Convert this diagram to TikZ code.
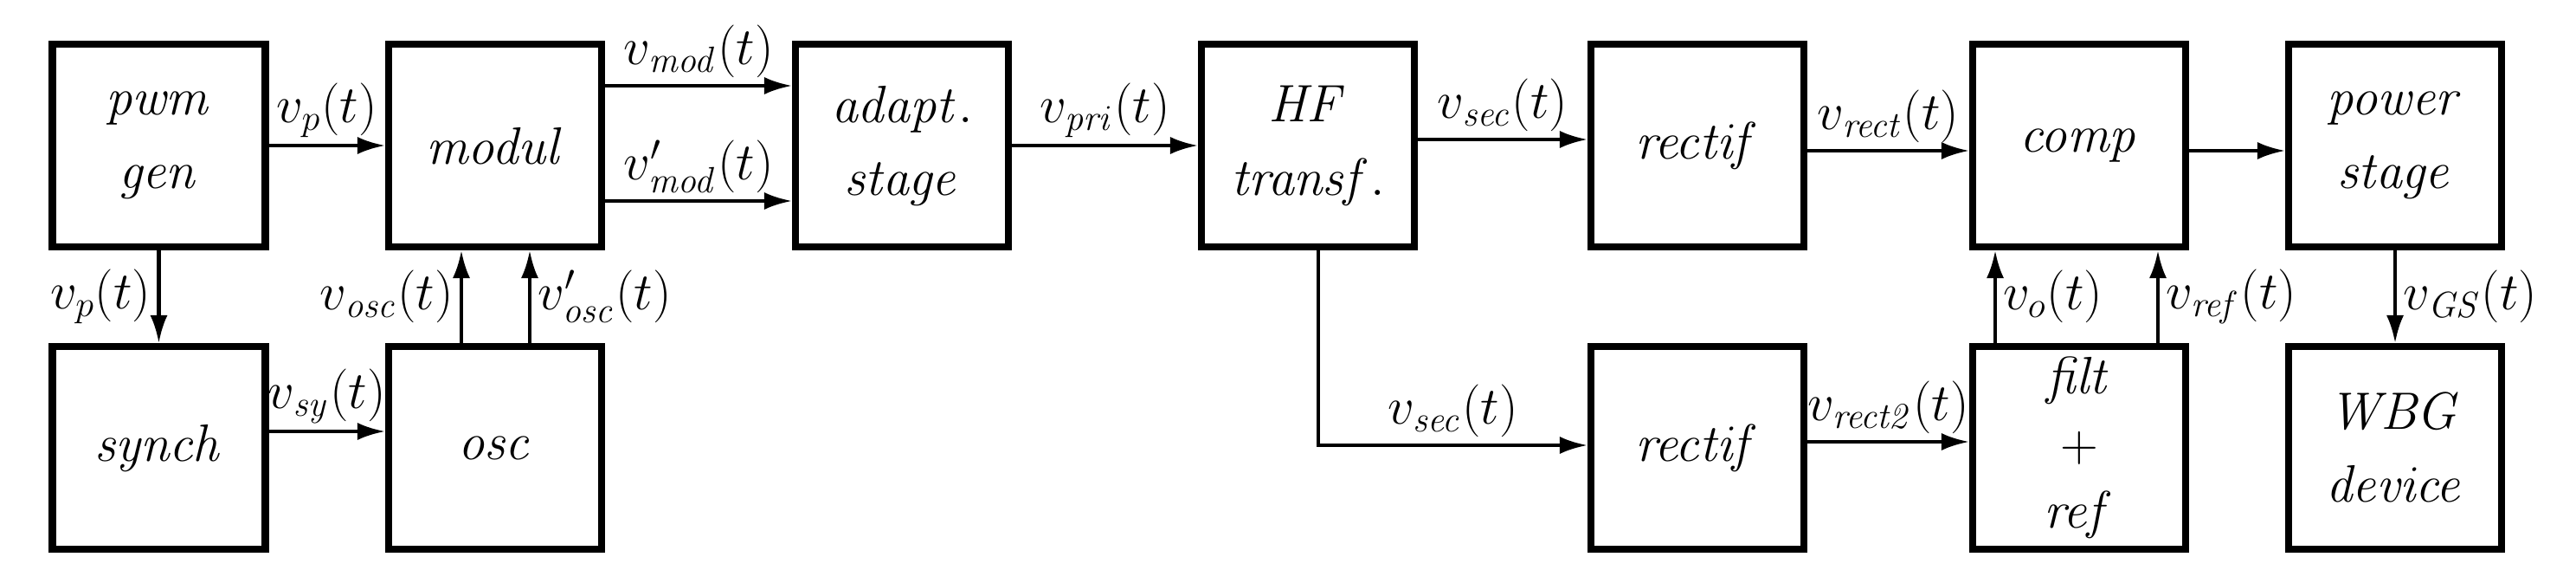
\documentclass[tikz,border=0pt]{standalone}
\usetikzlibrary{arrows.meta}
\begin{document}
\begin{tikzpicture}[x=1cm,y=1cm,
  box/.style={draw,line width=2.3pt,minimum width=2.46cm,minimum height=2.34cm,inner sep=0pt,align=center,font=\fontsize{18}{22}\selectfont},
  ar/.style={line width=1.2pt,-{Latex[length=0.32cm,width=0.2cm]}},
  lb/.style={font=\fontsize{17}{20}\selectfont,inner sep=2pt}]
\useasboundingbox (0,0) rectangle (29.76,6.72);
\node[box] (pwm) at (1.835,5.04) {$\mathit{pwm}$\\[2pt]$\mathit{gen}$};
\node[box] (mod) at (5.72,5.04) {$\mathit{modul}$};
\node[box] (ada) at (10.42,5.04) {$\mathit{adapt.}$\\[2pt]$\mathit{stage}$};
\node[box] (hf) at (15.11,5.04) {$\mathit{HF}$\\[2pt]$\mathit{transf.}$};
\node[box] (rec) at (19.61,5.04) {$\mathit{rectif}$};
\node[box] (cmp) at (24.02,5.04) {$\mathit{comp}$};
\node[box] (pow) at (27.67,5.04) {$\mathit{power}$\\[2pt]$\mathit{stage}$};
\node[box] (syn) at (1.835,1.55) {$\mathit{synch}$};
\node[box] (osc) at (5.72,1.55) {$\mathit{osc}$};
\node[box] (rec2) at (19.61,1.55) {$\mathit{rectif}$};
\node[box] (flt) at (24.02,1.55) {$\mathit{filt}$\\$+$\\$\mathit{ref}$};
\node[box] (wbg) at (27.67,1.55) {$\mathit{WBG}$\\[2pt]$\mathit{device}$};
\draw[ar] (pwm) -- node[lb,above]{$v_p(t)$} (mod);
\draw[ar] ([yshift=0.69cm]mod.east) -- node[lb,above]{$v_{\mathit{mod}}(t)$} ([yshift=0.69cm]ada.west);
\draw[ar] ([yshift=-0.64cm]mod.east) -- node[lb,above]{$v'_{\mathit{mod}}(t)$} ([yshift=-0.64cm]ada.west);
\draw[ar] (ada) -- node[lb,above]{$v_{\mathit{pri}}(t)$} (hf);
\draw[ar] ([yshift=0.07cm]hf.east) -- node[lb,above]{$v_{\mathit{sec}}(t)$} ([yshift=0.07cm]rec.west);
\draw[ar] ([yshift=-0.06cm]rec.east) -- node[lb,above]{$v_{\mathit{rect}}(t)$} ([yshift=-0.06cm]cmp.west);
\draw[ar] ([yshift=-0.06cm]cmp.east) -- ([yshift=-0.06cm]pow.west);
\draw[ar] (pwm) -- node[lb,left]{$v_p(t)$} (syn);
\draw[ar] ([yshift=0.19cm]syn.east) -- node[lb,above]{$v_{\mathit{sy}}(t)$} ([yshift=0.19cm]osc.west);
\draw[ar] ([xshift=-0.39cm]osc.north) -- node[lb,left]{$v_{\mathit{osc}}(t)$} ([xshift=-0.39cm]mod.south);
\draw[ar] ([xshift=0.40cm]osc.north) -- node[lb,right]{$v'_{\mathit{osc}}(t)$} ([xshift=0.40cm]mod.south);
\draw[ar] ([xshift=0.12cm]hf.south) |- node[lb,above,pos=0.75]{$v_{\mathit{sec}}(t)$} ([yshift=0.03cm]rec2.west);
\draw[ar] ([yshift=0.07cm]rec2.east) -- node[lb,above]{$v_{\mathit{rect2}}(t)$} ([yshift=0.07cm]flt.west);
\draw[ar] ([xshift=-0.97cm]flt.north) -- node[lb,right]{$v_o(t)$} ([xshift=-0.97cm]cmp.south);
\draw[ar] ([xshift=0.91cm]flt.north) -- node[lb,right]{$v_{\mathit{ref}}(t)$} ([xshift=0.91cm]cmp.south);
\draw[ar] (pow) -- node[lb,right]{$v_{\mathit{GS}}(t)$} (wbg);
\end{tikzpicture}
\end{document}
